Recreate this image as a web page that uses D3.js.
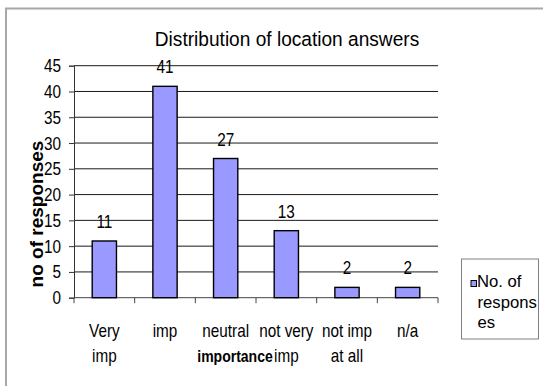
<!DOCTYPE html>
<html>
<head>
<meta charset="utf-8">
<script src="https://cdn.jsdelivr.net/npm/d3@7"></script>
<style>
  html, body { margin: 0; padding: 0; background: #fff; }
  svg { display: block; }
  text { font-family: "Liberation Sans", Arial, sans-serif; fill: #000; }
</style>
</head>
<body>
<script>
// Survey: how important is location?
const categories = [["Very", "imp"], ["imp"], ["neutral"], ["not very", "imp"], ["not imp", "at all"], ["n/a"]];
const responses = [11, 41, 27, 13, 2, 2];
const yTicks = [0, 5, 10, 15, 20, 25, 30, 35, 40, 45];
const titleText = "Distribution of location answers";
const yTitle = "no of responses";
const xTitle = "importance";
const legendLines = ["No. of", "respons", "es"];

const W = 543, H = 386;
const svg = d3.select("body").append("svg").attr("width", W).attr("height", H);

// outer chart frame (runs past the right and bottom edges)
svg.append("rect").attr("x", 6).attr("y", 8.5).attr("width", 600).attr("height", 400)
  .attr("fill", "none").attr("stroke", "#a8a8a8").attr("stroke-width", 2);

const plot = { left: 74, right: 438, top: 65.7, bottom: 297.7 };
const keys = categories.map((c, i) => i);
const x = d3.scaleBand().domain(keys).range([plot.left, plot.right]).padding(0);
const y = d3.scaleLinear().domain([0, 45]).range([plot.bottom, plot.top]);

// condensed text helper
function label(parent, px, py, str, o = {}) {
  const g = parent.append("g")
    .attr("transform", `translate(${px},${py}) scale(${o.sx ?? 0.85},1)${o.rot ? ` rotate(${o.rot})` : ""}`);
  return g.append("text").attr("x", 0).attr("y", 0)
    .attr("text-anchor", o.anchor ?? "middle")
    .attr("font-size", o.size ?? 18)
    .attr("font-weight", o.weight ?? "normal")
    .text(str);
}

// gridlines
svg.append("g").selectAll("line").data(yTicks.filter(t => t > 0)).join("line")
  .attr("x1", plot.left).attr("x2", plot.right)
  .attr("y1", d => y(d)).attr("y2", d => y(d))
  .attr("stroke", "#1a1a1a").attr("stroke-width", 1);

// y axis
const yAxis = svg.append("g").attr("transform", `translate(${plot.left},0)`)
  .call(d3.axisLeft(y).tickValues(yTicks).tickSize(5).tickFormat(""));
yAxis.select(".domain").attr("stroke", "#333");
yAxis.selectAll(".tick line").attr("stroke", "#333");
yTicks.forEach(t => label(svg, 61, y(t) + 6.5, String(t), { anchor: "end" }));

// x axis: baseline and boundary ticks
svg.append("line").attr("x1", plot.left).attr("x2", plot.right)
  .attr("y1", plot.bottom).attr("y2", plot.bottom).attr("stroke", "#444");
const bounds = keys.map(k => x(k)).concat([plot.right]);
svg.append("g").selectAll("line").data(bounds).join("line")
  .attr("x1", d => d).attr("x2", d => d)
  .attr("y1", plot.bottom).attr("y2", plot.bottom + 5.5)
  .attr("stroke", "#444");

// bars
const bw = x.bandwidth() * 0.4;
svg.append("g").selectAll("rect").data(responses).join("rect")
  .attr("x", (d, i) => x(i) + (x.bandwidth() - bw) / 2)
  .attr("y", d => y(d))
  .attr("width", bw)
  .attr("height", d => y(0) - y(d))
  .attr("fill", "#9999ff").attr("stroke", "#000").attr("stroke-width", 1.4);

// value labels
responses.forEach((v, i) => label(svg, x(i) + x.bandwidth() / 2, y(v) - 13, String(v)));

// category labels
categories.forEach((lines, i) => {
  lines.forEach((ln, j) => label(svg, x(i) + x.bandwidth() / 2, 337 + j * 24.5, ln));
});

// axis titles
label(svg, 235, 362, xTitle, { weight: "bold", size: 16.5 });
label(svg, 43, 214, yTitle, { weight: "bold", size: 19, sx: 1, rot: -90 });

// chart title
label(svg, 287, 45.5, titleText, { size: 19.5, sx: 0.98 });

// legend
svg.append("rect").attr("x", 461.5).attr("y", 259).attr("width", 77).attr("height", 80)
  .attr("fill", "#fff").attr("stroke", "#808080").attr("stroke-width", 1);
svg.append("rect").attr("x", 471).attr("y", 280.5).attr("width", 5.5).attr("height", 6)
  .attr("fill", "#9999ff").attr("stroke", "#000").attr("stroke-width", 1);
legendLines.forEach((ln, j) =>
  label(svg, j === 0 ? 477 : 477.5, 287 + j * 20.5, ln, { anchor: "start", size: 17, sx: 0.98 }));
</script>
</body>
</html>
